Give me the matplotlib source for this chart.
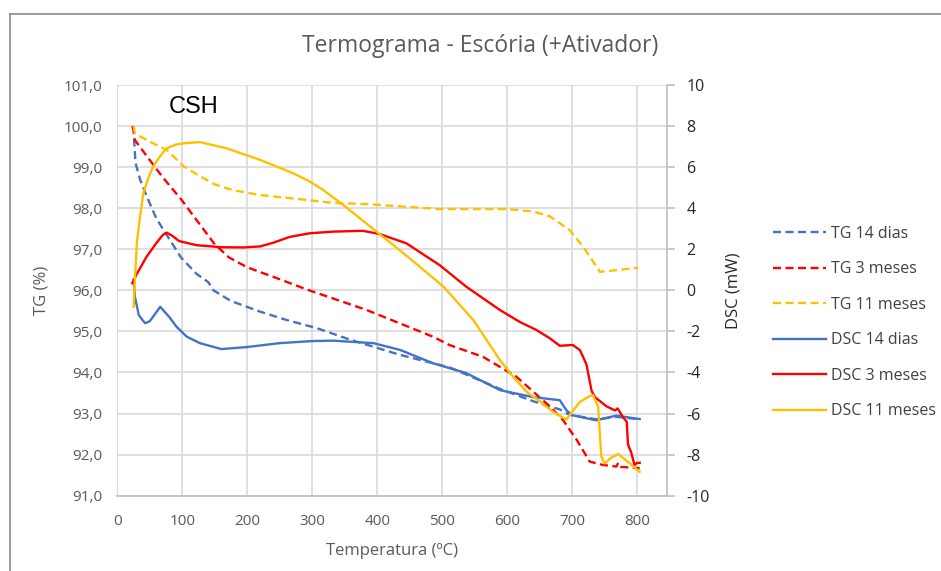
import matplotlib
matplotlib.use("Agg")
import matplotlib.pyplot as plt
from matplotlib.lines import Line2D
from matplotlib.ticker import FuncFormatter, MultipleLocator

# TG (%) curves, left axis
t_tg14 = [25, 26, 28, 35, 45, 60, 76, 98, 122, 140, 148, 175, 220, 260, 307, 358, 435, 512, 589, 640, 681, 696, 737, 768, 804]
tg14 = [100.0, 99.6, 99.1, 98.7, 98.3, 97.75, 97.35, 96.8, 96.4, 96.2, 96.0, 95.74, 95.48, 95.28, 95.08, 94.8, 94.43, 94.12,
        93.6, 93.3, 93.1, 92.97, 92.86, 92.92, 92.86]

t_tg3 = [23, 25, 27, 50, 71, 99, 122, 150, 172, 200, 245, 290, 384, 486, 511, 563, 614, 666, 686, 707, 727, 747, 768, 771,
         775, 804]
tg3 = [100.0, 99.9, 99.66, 99.17, 98.73, 98.2, 97.71, 97.12, 96.8, 96.56, 96.3, 96.03, 95.52, 94.87, 94.67, 94.38, 93.9,
       93.17, 92.84, 92.36, 91.83, 91.75, 91.71, 91.8, 91.7, 91.67]

t_tg11 = [25, 27, 50, 76, 102, 127, 150, 178, 220, 281, 332, 384, 440, 496, 550, 599, 640, 666, 696, 717, 743, 802]
tg11 = [100.0, 99.82, 99.62, 99.42, 99.02, 98.78, 98.58, 98.44, 98.32, 98.22, 98.13, 98.1, 98.04, 97.98, 97.98, 97.98,
        97.92, 97.8, 97.47, 97.06, 96.45, 96.55]

# DSC (mW) curves, right axis
t_dsc14 = [25, 27, 33, 40, 43, 50, 66, 80, 91, 107, 127, 160, 200, 250, 300, 332, 394, 435, 486, 537, 589, 640, 681, 691,
           699, 737, 768, 804]
dsc14 = [0.5, -0.3, -1.2, -1.5, -1.6, -1.5, -0.8, -1.3, -1.77, -2.26, -2.57, -2.86, -2.76, -2.57, -2.47, -2.45, -2.57,
         -2.9, -3.55, -4.03, -4.86, -5.2, -5.35, -5.83, -6.07, -6.33, -6.1, -6.27]

t_dsc3 = [23, 30, 45, 60, 70, 76, 85, 95, 122, 160, 194, 220, 240, 265, 296, 332, 378, 404, 445, 496, 537, 589, 619, 645,
          666, 681, 701, 712, 722, 730, 735, 753, 766, 770, 778, 784, 786, 791, 796, 800, 804]
dsc3 = [0.35, 0.8, 1.64, 2.3, 2.7, 2.81, 2.65, 2.4, 2.2, 2.1, 2.09, 2.14, 2.32, 2.6, 2.78, 2.86, 2.9, 2.74, 2.29, 1.23,
        0.18, -0.96, -1.53, -1.93, -2.34, -2.7, -2.66, -2.91, -3.6, -4.9, -5.2, -5.65, -5.85, -5.75, -6.16, -6.4, -7.5,
        -7.9, -8.5, -8.4, -8.4]

t_dsc11 = [25, 27, 30, 35, 40, 48, 55, 65, 76, 90, 102, 127, 168, 220, 271, 296, 317, 348, 399, 450, 502, 548, 589, 609,
           630, 650, 670, 691, 712, 727, 732, 740, 745, 750, 760, 771, 789, 804]
dsc11 = [-0.8, 0.5, 2.29, 3.6, 4.72, 5.5, 6.02, 6.5, 6.92, 7.1, 7.16, 7.22, 6.92, 6.35, 5.7, 5.3, 4.89, 4.15, 2.86, 1.56,
         0.18, -1.45, -3.4, -4.2, -4.94, -5.4, -5.9, -6.29, -5.43, -5.15, -5.1, -5.67, -8.1, -8.43, -8.15, -7.97, -8.43,
         -8.84]

labels = ["TG 14 dias", "TG 3 meses", "TG 11 meses", "DSC 14 dias", "DSC 3 meses", "DSC 11 meses"]
BLUE, RED, YELLOW = "#4472C4", "#FF0000", "#FFC000"
GRAY_TXT = "#595959"
GRID = "#D9D9D9"
SANS = ["Open Sans", "DejaVu Sans"]

fig = plt.figure(figsize=(9.41, 5.71), dpi=100)
ax = fig.add_axes([0.1247, 0.1319, 0.7088 - 0.1247, 0.8511 - 0.1319])
ax2 = ax.twinx()

lw = 1.7
dash = (3.4, 1.9)
h1, = ax.plot(t_tg14, tg14, color=BLUE, lw=lw, dashes=dash)
h2, = ax.plot(t_tg3, tg3, color=RED, lw=lw, dashes=dash)
h3, = ax.plot(t_tg11, tg11, color=YELLOW, lw=lw, dashes=dash)
h4, = ax2.plot(t_dsc14, dsc14, color=BLUE, lw=lw)
h5, = ax2.plot(t_dsc3, dsc3, color=RED, lw=lw)
h6, = ax2.plot(t_dsc11, dsc11, color=YELLOW, lw=lw)

ax.set_xlim(0, 846)
ax.set_ylim(91, 101)
ax2.set_ylim(-10, 10)
ax.set_xticks(range(0, 900, 100))
ax.yaxis.set_major_locator(MultipleLocator(1))
ax2.yaxis.set_major_locator(MultipleLocator(2))
ax.yaxis.set_major_formatter(FuncFormatter(lambda v, p: f"{v:.1f}".replace(".", ",")))
ax2.yaxis.set_major_formatter(FuncFormatter(lambda v, p: f"{v:.0f}"))

ax.grid(True, color=GRID, lw=1.2)
ax.set_axisbelow(True)
for s in ["top", "right"]:
    ax.spines[s].set_visible(False)
ax.spines["left"].set_color(GRID)
ax.spines["bottom"].set_color("#BFBFBF")
for s in ["top", "left", "bottom"]:
    ax2.spines[s].set_visible(False)
ax2.spines["right"].set_color("#BFBFBF")
ax.spines["bottom"].set_linewidth(1.2)
ax2.spines["right"].set_linewidth(1.2)

ax.tick_params(axis="x", length=0, labelsize=11, labelcolor=GRAY_TXT, pad=13)
ax.tick_params(axis="y", length=0, labelsize=11, labelcolor=GRAY_TXT, pad=11)
for lab in ax.get_xticklabels() + ax.get_yticklabels():
    lab.set_family(SANS)
ax2.tick_params(axis="y", length=6, color="#BFBFBF", width=1.2, labelsize=11.5, labelcolor="#262626", pad=8)
for lab in ax2.get_yticklabels():
    lab.set_family(SANS)

ax.set_xlabel("Temperatura (ºC)", fontsize=12, color=GRAY_TXT, family=SANS, labelpad=10)
ax.set_ylabel("TG (%)", fontsize=12, color=GRAY_TXT, family=SANS, labelpad=10)
ax2.set_ylabel("DSC (mW)", fontsize=12, color="#262626", family=SANS, labelpad=11)

fig.text(0.5105, 0.919, "Termograma - Escória (+Ativador)", fontsize=16.5, color=GRAY_TXT, family=SANS,
         ha="center", va="center")
ax.text(117, 100.46, "CSH", fontsize=17, color="black", family=["Liberation Sans", "DejaVu Sans"],
        ha="center", va="center")

fig.legend([h1, h2, h3, h4, h5, h6], labels, loc="center left", bbox_to_anchor=(0.8215, 0.4352),
           frameon=False, handlelength=3.3, handletextpad=0.3, labelspacing=1.22,
           borderpad=0, borderaxespad=0, prop={"family": SANS, "size": 11.5},
           labelcolor="#404040")

# chart area border (only left and top edges are visible in the crop)
fig.add_artist(Line2D([0.0101, 0.0101], [0, 1 - 14 / 571], color="#8C8C8C", lw=1.2, transform=fig.transFigure))
fig.add_artist(Line2D([0.0101, 1], [1 - 14 / 571, 1 - 14 / 571], color="#8C8C8C", lw=1.2, transform=fig.transFigure))

fig.savefig("out.png", dpi=100)
